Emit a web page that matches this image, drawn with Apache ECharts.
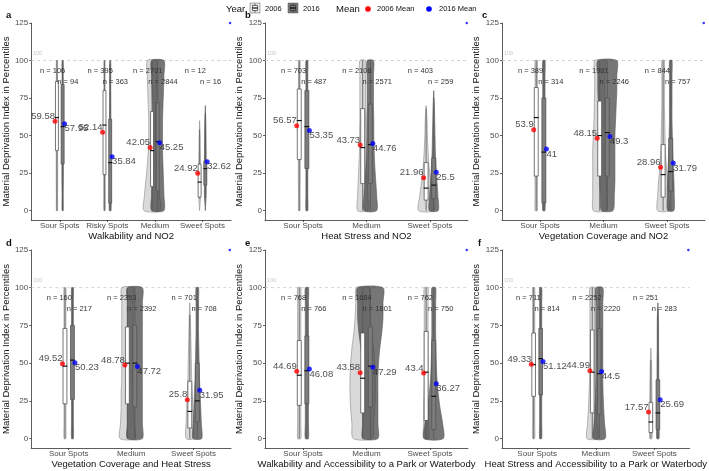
<!DOCTYPE html>
<html>
<head>
<meta charset="utf-8">
<script src="https://cdn.jsdelivr.net/npm/echarts@6/dist/echarts.min.js"></script>
<style>
html,body{margin:0;padding:0;background:#fff;}
#container{width:709px;height:471px;}
</style>
</head>
<body>
<div id="container"></div>
<script>
// ---- data ----
var panelLetters = ['a', 'b', 'c', 'd', 'e', 'f'];
var panelTitles = [
	'Walkability and NO2',
	'Heat Stress and NO2',
	'Vegetation Coverage and NO2',
	'Vegetation Coverage and Heat Stress',
	'Walkability and Accessibility to a Park or Waterbody',
	'Heat Stress and Accessibility to a Park or Waterbody'
];
var panelCategories = [
	['Sour Spots', 'Risky Spots', 'Medium', 'Sweet Spots'],
	['Sour Spots', 'Medium', 'Sweet Spots'],
	['Sour Spots', 'Medium', 'Sweet Spots'],
	['Sour Spots', 'Medium', 'Sweet Spots'],
	['Sour Spots', 'Medium', 'Sweet Spots'],
	['Sour Spots', 'Medium', 'Sweet Spots']
];
var n2006 = [[106, 395, 2701, 12], [703, 2108, 403], [389, 1981, 844], [160, 2353, 701], [768, 1684, 762], [711, 2252, 251]];
var n2016 = [[94, 363, 2844, 16], [487, 2571, 259], [314, 2246, 757], [217, 2392, 708], [766, 1801, 750], [814, 2220, 283]];
var mean2006 = [[59.58, 52.14, 42.05, 24.92], [56.57, 43.73, 21.96], [53.9, 48.15, 28.96], [49.52, 48.78, 25.8], [44.69, 43.58, 43.4], [49.33, 44.99, 17.57]];
var mean2016 = [[57.95, 35.84, 45.25, 32.62], [53.35, 44.76, 25.5], [41, 49.3, 31.79], [50.23, 47.72, 31.95], [46.08, 47.29, 36.27], [51.12, 44.5, 25.69]];

// boxplot stats: lower whisker, Q1, median, Q3, upper whisker
var box2006 = [
	[[0, 40, 62, 86, 100], [0, 24, 57, 80, 100], [0, 16, 40, 66, 100], [8, 9, 19, 31, 54]],
	[[0, 34, 60, 81, 100], [0, 18, 42, 68, 100], [0, 7, 15, 32, 68]],
	[[0, 23, 62, 82, 100], [0, 23, 50, 73, 100], [0, 9, 24, 44, 100]],
	[[0, 23, 48, 73, 100], [0, 23, 50, 74, 100], [0, 7, 18, 38, 82]],
	[[0, 22, 42, 65, 100], [0, 17, 40, 70, 100], [0, 12, 44, 71, 100]],
	[[0, 28, 49, 70, 100], [0, 17, 44, 72, 100], [0, 4, 11, 24, 52]]
];
var box2016 = [
	[[0, 31, 56, 84, 98], [0, 5, 32, 61, 98], [0, 13, 46, 72, 100], [8, 17, 28, 33, 65]],
	[[0, 28, 56, 80, 100], [0, 18, 44, 71, 100], [0, 8, 17, 35, 75]],
	[[0, 5, 39, 75, 100], [0, 23, 52, 75, 100], [0, 13, 26, 48, 100]],
	[[0, 26, 52, 75, 100], [0, 21, 50, 75, 100], [0, 11, 25, 50, 100]],
	[[0, 23, 45, 68, 100], [0, 21, 48, 74, 100], [0, 6, 28, 65, 100]],
	[[0, 29, 53, 73, 100], [0, 16, 43, 73, 100], [0, 6, 17, 39, 86]]
];

// violin half widths (in category units) at these index levels
var violinLevels = [0, 10, 20, 30, 40, 50, 60, 70, 80, 90, 100];
var violin2006 = [
	[[0.012, 0.012, 0.015, 0.015, 0.015, 0.015, 0.015, 0.015, 0.015, 0.012, 0.012],
	 [0.015, 0.018, 0.018, 0.018, 0.016, 0.016, 0.016, 0.016, 0.015, 0.013, 0.012],
	 [0.17, 0.16, 0.13, 0.1, 0.08, 0.07, 0.07, 0.08, 0.09, 0.1, 0.1],
	 [0, 0.02, 0.025, 0.02, 0.015, 0.01, 0, 0, 0, 0, 0]],
	[[0.012, 0.012, 0.015, 0.015, 0.015, 0.015, 0.015, 0.015, 0.015, 0.012, 0.012],
	 [0.08, 0.08, 0.07, 0.06, 0.05, 0.05, 0.045, 0.045, 0.045, 0.045, 0.045],
	 [0.12, 0.1, 0.07, 0.045, 0.03, 0.02, 0.015, 0, 0, 0, 0]],
	[[0.018, 0.018, 0.02, 0.02, 0.02, 0.02, 0.02, 0.018, 0.018, 0.018, 0.018],
	 [0.1, 0.11, 0.11, 0.11, 0.11, 0.1, 0.09, 0.085, 0.08, 0.08, 0.08],
	 [0.09, 0.085, 0.07, 0.05, 0.035, 0.03, 0.025, 0.02, 0.02, 0.02, 0.02]],
	[[0.015, 0.015, 0.015, 0.015, 0.015, 0.015, 0.015, 0.015, 0.015, 0.015, 0.015],
	 [0.12, 0.11, 0.1, 0.1, 0.09, 0.09, 0.09, 0.09, 0.09, 0.09, 0.09],
	 [0.06, 0.06, 0.05, 0.04, 0.03, 0.025, 0.02, 0.015, 0.01, 0, 0]],
	[[0.025, 0.025, 0.025, 0.025, 0.025, 0.025, 0.025, 0.025, 0.025, 0.025, 0.025],
	 [0.15, 0.17, 0.19, 0.2, 0.2, 0.19, 0.17, 0.14, 0.12, 0.11, 0.1],
	 [0.04, 0.04, 0.04, 0.035, 0.03, 0.03, 0.03, 0.03, 0.03, 0.03, 0.03]],
	[[0.018, 0.018, 0.018, 0.018, 0.018, 0.018, 0.018, 0.018, 0.018, 0.018, 0.018],
	 [0.09, 0.08, 0.065, 0.055, 0.045, 0.04, 0.04, 0.04, 0.04, 0.04, 0.04],
	 [0.02, 0.02, 0.02, 0.018, 0.015, 0.01, 0, 0, 0, 0, 0]]
];
var violin2016 = [
	[[0.012, 0.012, 0.015, 0.015, 0.015, 0.015, 0.015, 0.015, 0.015, 0.012, 0.012],
	 [0.018, 0.018, 0.016, 0.016, 0.016, 0.014, 0.014, 0.014, 0.012, 0.012, 0.01],
	 [0.13, 0.13, 0.12, 0.11, 0.1, 0.1, 0.1, 0.11, 0.12, 0.13, 0.13],
	 [0, 0.018, 0.02, 0.02, 0.018, 0.015, 0.01, 0, 0, 0, 0]],
	[[0.015, 0.015, 0.015, 0.015, 0.015, 0.015, 0.015, 0.015, 0.015, 0.015, 0.015],
	 [0.1, 0.1, 0.085, 0.07, 0.06, 0.055, 0.055, 0.05, 0.05, 0.05, 0.05],
	 [0.07, 0.065, 0.05, 0.035, 0.025, 0.02, 0.015, 0.01, 0, 0, 0]],
	[[0.018, 0.018, 0.018, 0.018, 0.018, 0.018, 0.018, 0.018, 0.018, 0.018, 0.018],
	 [0.09, 0.11, 0.12, 0.12, 0.12, 0.12, 0.13, 0.14, 0.15, 0.15, 0.15],
	 [0.05, 0.055, 0.05, 0.04, 0.03, 0.025, 0.02, 0.02, 0.02, 0.02, 0.02]],
	[[0.015, 0.015, 0.015, 0.015, 0.015, 0.015, 0.015, 0.015, 0.015, 0.015, 0.015],
	 [0.12, 0.12, 0.12, 0.12, 0.12, 0.12, 0.12, 0.12, 0.12, 0.12, 0.12],
	 [0.07, 0.065, 0.055, 0.045, 0.035, 0.03, 0.025, 0.02, 0.02, 0.02, 0.02]],
	[[0.025, 0.025, 0.025, 0.025, 0.025, 0.025, 0.025, 0.025, 0.025, 0.025, 0.025],
	 [0.12, 0.12, 0.12, 0.12, 0.12, 0.13, 0.15, 0.18, 0.2, 0.2, 0.2],
	 [0.15, 0.14, 0.1, 0.07, 0.05, 0.04, 0.035, 0.03, 0.03, 0.03, 0.03]],
	[[0.018, 0.018, 0.018, 0.018, 0.018, 0.018, 0.018, 0.018, 0.018, 0.018, 0.018],
	 [0.1, 0.09, 0.075, 0.065, 0.06, 0.06, 0.06, 0.06, 0.06, 0.06, 0.06],
	 [0.02, 0.02, 0.02, 0.018, 0.015, 0.015, 0.012, 0.012, 0.01, 0, 0]]
];
var yTicks = [0, 25, 50, 75, 100, 125];
var refValue = 100;

// ---- layout ----
var FONT = '"Liberation Sans", Arial, sans-serif';
var colLeft = [28, 265, 502];
var rowTop = [23, 250];
var rowHeight = [197, 198];
var panelWidth = 203;
var yearOffset = [-0.06, 0.06];
var meanOffset = [-0.1, 0.1];
var nOffset = [-0.15, 0.17];
var nLevel = [93, 86];
var boxHalf = 0.031;

var dom = document.getElementById('container');
var myChart = echarts.init(dom, null, {renderer: 'canvas'});

function catIdx(cats) {
	var out = [];
	for (var k = 0; k < cats.length; k++) out.push(k + 1);
	return out;
}

function violinRender(profiles, off) {
	return function (params, api) {
		var x = api.value(0) + off;
		var hw = profiles[params.dataIndex];
		// only keep the part of the profile that has width, plus one tip on each end
		var first = -1, last = -1;
		for (var k = 0; k < hw.length; k++) {
			if (hw[k] > 0) { if (first < 0) first = k; last = k; }
		}
		if (first < 0) return null;
		var from = Math.max(first - 1, 0), to = Math.min(last + 1, hw.length - 1);
		var right = [], left = [];
		for (k = from; k <= to; k++) {
			right.push(api.coord([x + hw[k], violinLevels[k]]));
			left.unshift(api.coord([x - hw[k], violinLevels[k]]));
		}
		return {
			type: 'polygon',
			shape: {points: right.concat(left), smooth: 0.25},
			style: api.style()
		};
	};
}

function boxRender(stats, off, fill) {
	return function (params, api) {
		var x = api.value(0) + off;
		var s = stats[params.dataIndex];
		var lo = api.coord([x, s[0]]), q1 = api.coord([x, s[1]]), md = api.coord([x, s[2]]),
			q3 = api.coord([x, s[3]]), hi = api.coord([x, s[4]]);
		var half = api.size([boxHalf, 0])[0];
		return {
			type: 'group',
			children: [
				{type: 'line', shape: {x1: lo[0], y1: lo[1], x2: hi[0], y2: hi[1]}, style: {stroke: '#555', lineWidth: 0.8}},
				{type: 'rect', shape: {x: q3[0] - half, y: q3[1], width: half * 2, height: q1[1] - q3[1]},
					style: {fill: fill, stroke: '#555', lineWidth: 0.8}},
				{type: 'line', shape: {x1: md[0] - half - 0.5, y1: md[1], x2: md[0] + half + 0.5, y2: md[1]},
					style: {stroke: '#111', lineWidth: 1.2}}
			]
		};
	};
}

function nRender(counts, off, level) {
	return function (params, api) {
		var p = api.coord([api.value(0) + off, level]);
		return {
			type: 'text', x: p[0], y: p[1],
			style: {text: 'n = ' + counts[params.dataIndex], fontSize: 7.5, fontFamily: FONT, fill: '#333',
				align: 'center', verticalAlign: 'middle'}
		};
	};
}

function refRender(xmin, xmax) {
	return function (params, api) {
		var a = api.coord([xmin, refValue]), b = api.coord([xmax, refValue]);
		return {
			type: 'group',
			children: [
				{type: 'line', shape: {x1: a[0], y1: a[1], x2: b[0], y2: b[1]},
					style: {stroke: '#c8c8c8', lineWidth: 0.8, lineDash: [3, 3]}},
				{type: 'text', x: a[0] + 2, y: a[1] - 7,
					style: {text: String(refValue), fontSize: 5.5, fontFamily: FONT, fill: '#c8c8c8', align: 'left', verticalAlign: 'middle'}}
			]
		};
	};
}

var grids = [], xAxes = [], yAxes = [], series = [];

for (var i = 0; i < 6; i++) {
	var col = i % 3, row = Math.floor(i / 3);
	var cats = panelCategories[i];
	var idx = catIdx(cats);
	var xmax = cats.length + 0.6;
	grids.push({left: colLeft[col], top: rowTop[row], width: panelWidth, height: rowHeight[row]});
	xAxes.push({
		gridIndex: i, type: 'value', min: 0.4, max: xmax,
		splitLine: {show: false},
		axisLine: {onZero: false, lineStyle: {color: '#333', width: 0.8}},
		axisTick: {customValues: idx, length: 2, lineStyle: {color: '#333', width: 0.8}},
		axisLabel: {
			customValues: idx, fontSize: 8, color: '#4d4d4d', fontFamily: FONT, margin: 2,
			formatter: (function (c) { return function (v) { return c[Math.round(v) - 1]; }; })(cats)
		},
		name: panelTitles[i], nameLocation: 'middle', nameGap: 11,
		nameTextStyle: {fontSize: 9.5, color: '#111', fontFamily: FONT}
	});
	yAxes.push({
		gridIndex: i, type: 'value', min: -6.25, max: 125,
		splitLine: {show: false},
		axisLine: {show: true, onZero: false, lineStyle: {color: '#333', width: 0.8}},
		axisTick: {show: true, customValues: yTicks, length: 2, lineStyle: {color: '#333', width: 0.8}},
		axisLabel: {customValues: yTicks, fontSize: 8, color: '#4d4d4d', fontFamily: FONT, margin: 3},
		name: 'Material Deprivation Index in Percentiles', nameLocation: 'middle', nameGap: 17,
		nameTextStyle: {fontSize: 9.5, color: '#111', fontFamily: FONT}
	});

	var catData = idx.map(function (v) { return [v, 0]; });

	series.push({
		type: 'custom', xAxisIndex: i, yAxisIndex: i, silent: true, z: 1,
		renderItem: refRender(0.4, xmax), data: [[1, refValue]]
	});
	series.push({
		type: 'custom', name: '2006', xAxisIndex: i, yAxisIndex: i, z: 2,
		itemStyle: {color: 'rgba(185,185,185,0.55)', borderColor: '#8a8a8a', borderWidth: 0.6},
		renderItem: violinRender(violin2006[i], yearOffset[0]), data: catData
	});
	series.push({
		type: 'custom', name: '2016', xAxisIndex: i, yAxisIndex: i, z: 3,
		itemStyle: {color: 'rgba(60,60,60,0.7)', borderColor: '#555', borderWidth: 0.6},
		renderItem: violinRender(violin2016[i], yearOffset[1]), data: catData
	});
	series.push({
		type: 'custom', xAxisIndex: i, yAxisIndex: i, z: 4,
		renderItem: boxRender(box2006[i], yearOffset[0], '#ffffff'), data: catData
	});
	series.push({
		type: 'custom', xAxisIndex: i, yAxisIndex: i, z: 4,
		renderItem: boxRender(box2016[i], yearOffset[1], '#7d7d7d'), data: catData
	});
	series.push({
		type: 'custom', xAxisIndex: i, yAxisIndex: i, z: 5,
		renderItem: nRender(n2006[i], nOffset[0], nLevel[0]), data: catData
	});
	series.push({
		type: 'custom', xAxisIndex: i, yAxisIndex: i, z: 5,
		renderItem: nRender(n2016[i], nOffset[1], nLevel[1]), data: catData
	});
	series.push({
		type: 'scatter', name: '2006 Mean', xAxisIndex: i, yAxisIndex: i, z: 6,
		symbolSize: 5, itemStyle: {color: '#ff0000'},
		data: mean2006[i].map(function (m, k) { return [k + 1 + meanOffset[0], m]; }),
		label: {show: true, position: [2.5, 2.5], align: 'right', verticalAlign: 'bottom',
			fontSize: 9.5, color: '#222', fontFamily: FONT,
			formatter: function (p) { return String(p.value[1]); }}
	});
	series.push({
		type: 'scatter', name: '2016 Mean', xAxisIndex: i, yAxisIndex: i, z: 6,
		symbolSize: 5, itemStyle: {color: '#0000ff'},
		data: mean2016[i].map(function (m, k) { return [k + 1 + meanOffset[1], m]; }),
		label: {show: true, position: [2.5, 2.5], align: 'left', verticalAlign: 'top',
			fontSize: 9.5, color: '#222', fontFamily: FONT,
			formatter: function (p) { return String(p.value[1]); }}
	});
	// stray mean marker in the top right corner of every panel
	series.push({
		type: 'scatter', xAxisIndex: i, yAxisIndex: i, z: 6, symbolSize: 2.5,
		itemStyle: {color: '#0000ff'}, data: [[xmax - 0.02, 125]]
	});
}

// legend + panel letters
function legendKey(x, fillOuter, fillBox) {
	return {
		type: 'group', x: x, y: 3,
		children: [
			{type: 'rect', shape: {x: 0, y: 0, width: 10, height: 10}, style: {fill: fillOuter, stroke: '#777', lineWidth: 0.6}},
			{type: 'line', shape: {x1: 5, y1: 0.5, x2: 5, y2: 9.5}, style: {stroke: '#333', lineWidth: 0.7}},
			{type: 'rect', shape: {x: 2.5, y: 2.5, width: 5, height: 5}, style: {fill: fillBox, stroke: '#333', lineWidth: 0.7}},
			{type: 'line', shape: {x1: 2.5, y1: 5, x2: 7.5, y2: 5}, style: {stroke: '#000', lineWidth: 1.2}}
		]
	};
}
function txt(x, y, s, size, weight) {
	return {type: 'text', x: x, y: y, style: {text: s, fontSize: size, fontWeight: weight || 'normal',
		fontFamily: FONT, fill: '#111', align: 'left', verticalAlign: 'middle'}};
}
var graphics = [
	txt(226, 9, 'Year', 9.5),
	legendKey(250, '#e4e4e4', '#ffffff'),
	txt(265, 9, '2006', 7.5),
	legendKey(288, '#6e6e6e', '#7d7d7d'),
	txt(303, 9, '2016', 7.5),
	txt(336, 9, 'Mean', 9.5),
	{type: 'circle', shape: {cx: 368, cy: 9, r: 2.8}, style: {fill: '#ff0000'}},
	txt(377, 9, '2006 Mean', 7.5),
	{type: 'circle', shape: {cx: 429, cy: 9, r: 2.8}, style: {fill: '#0000ff'}},
	txt(439, 9, '2016 Mean', 7.5)
];
var letterPos = [[6, 15], [245, 15], [482, 15], [6, 243], [245, 243], [478, 243]];
for (var j = 0; j < 6; j++) {
	graphics.push(txt(letterPos[j][0], letterPos[j][1], panelLetters[j], 9.5, 'bold'));
}

option = null;
option = {
	backgroundColor: '#ffffff',
	animation: false,
	textStyle: {fontFamily: FONT},
	grid: grids,
	xAxis: xAxes,
	yAxis: yAxes,
	series: series,
	graphic: graphics
};
if (option && typeof option === 'object') {
	myChart.setOption(option, true);
}
</script>
</body>
</html>
